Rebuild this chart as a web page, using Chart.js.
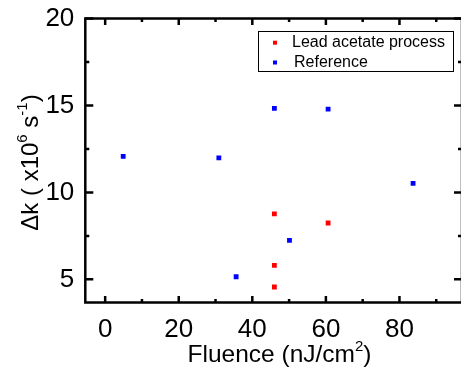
<!DOCTYPE html>
<html>
<head>
<meta charset="utf-8">
<script src="https://cdn.jsdelivr.net/npm/chart.js@4"></script>
<style>
  html, body { margin: 0; padding: 0; background: #fff; overflow: hidden; }
  #wrap { width: 466px; height: 370px; }
</style>
</head>
<body>
<div id="wrap"><canvas id="chart" width="466" height="370"></canvas></div>
<script>
const FONT = '"Liberation Sans", Arial, sans-serif';

// data
const leadLabel = 'Lead acetate process';
const leadX = [46, 60.6, 46, 46];
const leadY = [8.77, 8.24, 5.80, 4.56];

const refLabel = 'Reference';
const refX = [4.9, 30.9, 46, 60.6, 83.7, 50.1, 35.6];
const refY = [12.07, 11.99, 14.83, 14.79, 10.52, 7.24, 5.15];

const xTicks = [0, 20, 40, 60, 80];
const xMinorTicks = [10, 30, 50, 70, 90];
const yTicks = [5, 10, 15, 20];
const yMinorTicks = [7.5, 12.5, 17.5];

function toPoints(xs, ys) {
  return xs.map((x, i) => ({ x, y: ys[i] }));
}

// draws text with superscript pieces, centred on (x, y)
function drawRich(ctx, parts, x, y, size) {
  const supSize = Math.round(size * 0.62);
  let total = 0;
  parts.forEach((p) => {
    ctx.font = `${p.sup ? supSize : size}px ${FONT}`;
    p.w = ctx.measureText(p.t).width;
    total += p.w;
  });
  let cx = x - total / 2;
  ctx.textAlign = 'left';
  ctx.textBaseline = 'alphabetic';
  parts.forEach((p) => {
    ctx.font = `${p.sup ? supSize : size}px ${FONT}`;
    ctx.fillText(p.t, cx, p.sup ? y - size * 0.42 : y);
    cx += p.w;
  });
}

const framePlugin = {
  id: 'frame',
  afterDraw(chart) {
    const { ctx, chartArea: a, scales } = chart;
    const xs = scales.x;
    const ys = scales.y;
    ctx.save();
    ctx.strokeStyle = '#000';
    ctx.fillStyle = '#000';
    ctx.lineWidth = 2.5;
    ctx.lineCap = 'butt';
    ctx.strokeRect(a.left, a.top, a.right - a.left, a.bottom - a.top);

    ctx.beginPath();
    const xTick = (v, len) => {
      const px = xs.getPixelForValue(v);
      ctx.moveTo(px, a.bottom); ctx.lineTo(px, a.bottom - len);
      ctx.moveTo(px, a.top); ctx.lineTo(px, a.top + len);
    };
    const yTick = (v, len) => {
      const py = ys.getPixelForValue(v);
      ctx.moveTo(a.left, py); ctx.lineTo(a.left + len, py);
      ctx.moveTo(a.right, py); ctx.lineTo(a.right - len, py);
    };
    xTicks.forEach((v) => xTick(v, 6.5));
    xMinorTicks.forEach((v) => xTick(v, 3.5));
    yTicks.forEach((v) => yTick(v, 8));
    yMinorTicks.forEach((v) => yTick(v, 4));
    ctx.stroke();

    // axis titles
    drawRich(ctx, [
      { t: 'Fluence (nJ/cm' }, { t: '2', sup: true }, { t: ')' }
    ], 279.5, 361.7, 24.5);

    ctx.save();
    ctx.translate(37.5, 162.5);
    ctx.rotate(-Math.PI / 2);
    drawRich(ctx, [
      { t: '\u0394k ( x10' }, { t: '6', sup: true }, { t: ' s' }, { t: '-1', sup: true }, { t: ')' }
    ], 0, 0, 24);
    ctx.restore();

    // legend box
    ctx.lineWidth = 1;
    ctx.strokeRect(258.5, 31.5, 195, 40);
    ctx.font = `16px ${FONT}`;
    ctx.textAlign = 'left';
    ctx.textBaseline = 'alphabetic';
    chart.data.datasets.forEach((ds, i) => {
      const rowY = 42.7 + i * 19.8;
      ctx.fillStyle = ds.backgroundColor;
      ctx.fillRect(273, rowY - 2, 4, 4);
      ctx.fillStyle = '#000';
      ctx.fillText(ds.label, i === 0 ? 292 : 294, rowY + 4.5);
    });
    ctx.restore();
  }
};

new Chart(document.getElementById('chart'), {
  type: 'scatter',
  data: {
    datasets: [
      {
        label: leadLabel,
        data: toPoints(leadX, leadY),
        backgroundColor: '#ff0000',
        pointStyle: 'rect',
        pointRadius: 3.4,
        borderWidth: 0,
      },
      {
        label: refLabel,
        data: toPoints(refX, refY),
        backgroundColor: '#0000ff',
        pointStyle: 'rect',
        pointRadius: 3.4,
        borderWidth: 0,
      },
    ],
  },
  options: {
    responsive: false,
    animation: false,
    devicePixelRatio: 1,
    layout: { padding: { top: 18.5, right: 1, left: 0, bottom: 0 } },
    plugins: {
      legend: { display: false },
      tooltip: { enabled: false },
    },
    scales: {
      x: {
        type: 'linear',
        min: -5.4,
        max: 97,
        grid: { display: false, drawTicks: false },
        border: { display: false },
        ticks: { color: '#000', font: { family: FONT, size: 26 }, padding: 12, maxRotation: 0 },
        afterBuildTicks: (scale) => { scale.ticks = xTicks.map((v) => ({ value: v })); },
        afterFit: (scale) => { scale.height = 67.5; },
      },
      y: {
        type: 'linear',
        min: 3.67,
        max: 20,
        grid: { display: false, drawTicks: false },
        border: { display: false },
        // small lineHeight keeps the top label from pushing the plot area down
        ticks: { color: '#000', font: { family: FONT, size: 26, lineHeight: 0.3 }, padding: 11 },
        afterBuildTicks: (scale) => { scale.ticks = yTicks.map((v) => ({ value: v })); },
        afterFit: (scale) => { scale.width = 85.3; },
      },
    },
  },
  plugins: [framePlugin],
});
</script>
</body>
</html>
